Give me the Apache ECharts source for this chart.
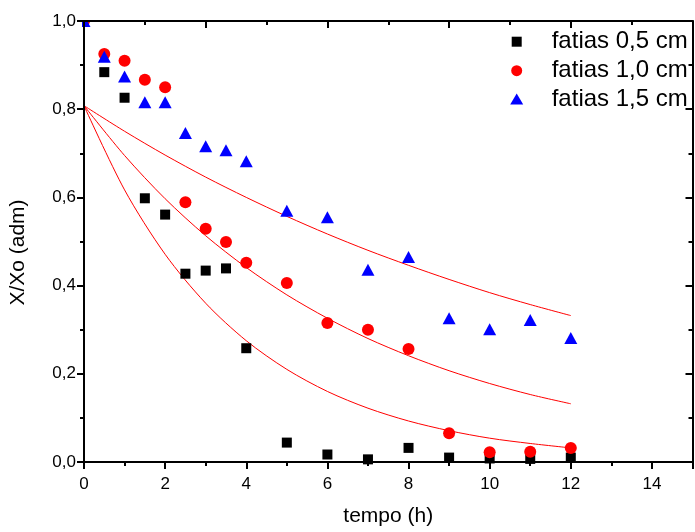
<!DOCTYPE html>
<html><head><meta charset="utf-8">
<script src="https://cdn.jsdelivr.net/npm/echarts@6/dist/echarts.min.js"></script>
<style>html,body{margin:0;padding:0;background:#fff}#c{width:695px;height:532px}</style>
</head><body><div id="c"></div>
<script>
// measured data (X/Xo vs tempo)
const timeHours = [0, 0.5, 1, 1.5, 2, 2.5, 3, 3.5, 4, 5, 6, 7, 8, 9, 10, 11, 12];
const slices05 = [1.0, 0.884, 0.826, 0.598, 0.561, 0.427, 0.434, 0.439, 0.258, 0.044, 0.017, 0.006, 0.032, 0.010, 0.008, 0.007, 0.010];
const slices10 = [1.0, 0.925, 0.910, 0.867, 0.850, 0.589, 0.529, 0.499, 0.452, 0.406, 0.315, 0.300, 0.256, 0.065, 0.022, 0.023, 0.032];
const slices15 = [1.0, 0.919, 0.874, 0.816, 0.816, 0.746, 0.716, 0.707, 0.682, 0.570, 0.555, 0.436, 0.465, 0.326, 0.301, 0.322, 0.281];
// fitted curves
const fitTime = [0, 1, 2, 3, 4, 5, 6, 7, 8, 9, 10, 11, 12];
const fit05 = [0.808, 0.617, 0.471, 0.360, 0.275, 0.210, 0.160, 0.122, 0.093, 0.071, 0.054, 0.042, 0.032];
const fit10 = [0.808, 0.695, 0.597, 0.513, 0.441, 0.379, 0.326, 0.280, 0.241, 0.207, 0.178, 0.153, 0.132];
const fit15 = [0.808, 0.750, 0.696, 0.646, 0.600, 0.557, 0.517, 0.480, 0.446, 0.414, 0.384, 0.357, 0.332];
const seriesNames = ['fatias 0,5 cm', 'fatias 1,0 cm', 'fatias 1,5 cm'];
const xAxisName = 'tempo (h)';
const yAxisName = 'X/Xo (adm)';

const FONT = '"Liberation Sans", Arial, sans-serif';
const pair = (xs, ys) => xs.map((x, i) => [x, ys[i]]);
const chart = echarts.init(document.getElementById('c'), null, {renderer: 'canvas'});

const axLine = {show: true, onZero: false, lineStyle: {color: '#000', width: 2}};
const icons = ['rect', 'circle', 'triangle'];
const iconW = [10, 11, 13];
const iconH = [10, 11, 11];
const rowCenter = [41.7, 70.7, 99];
const colors = ['#000000', '#ff0000', '#0000ff'];
const LEG_FS = 24;

const legends = seriesNames.map((n, i) => ({
  data: [{name: n, icon: icons[i]}],
  selectedMode: false,
  orient: 'vertical',
  padding: 0,
  z: 6,
  left: 516.7 - iconW[i] / 2,
  top: rowCenter[i] - LEG_FS / 2,
  itemWidth: iconW[i],
  itemHeight: iconH[i],
  textStyle: {fontFamily: FONT, fontSize: LEG_FS, color: '#000', padding: [0, 0, 0, 30 - iconW[i] / 2]}
}));

chart.setOption({
  animation: false,
  backgroundColor: '#fff',
  grid: {left: 83, right: 2.5, top: 21, bottom: 67, containLabel: false},
  legend: legends,
  // mask the parts of marks that fall outside the plot frame (as the original clips them)
  graphic: [
    {type: 'rect', z: 3, silent: true, shape: {x: 0, y: 0, width: 695, height: 20}, style: {fill: '#fff'}},
    {type: 'rect', z: 3, silent: true, shape: {x: 0, y: 0, width: 82, height: 532}, style: {fill: '#fff'}}
  ],
  xAxis: [{
    type: 'value', position: 'bottom', min: 0, max: 15, interval: 2, z: 5,
    name: xAxisName, nameLocation: 'middle', nameGap: 44,
    nameTextStyle: {fontFamily: FONT, fontSize: 21, color: '#000'},
    axisLine: axLine,
    axisTick: {show: true, inside: false, length: 7, lineStyle: {color: '#000', width: 2}},
    minorTick: {show: true, splitNumber: 2, length: 4, lineStyle: {color: '#000', width: 2}},
    axisLabel: {fontFamily: FONT, fontSize: 17, color: '#000', margin: 14, showMaxLabel: false},
    splitLine: {show: false}
  }, {
    type: 'value', position: 'top', min: 0, max: 15, interval: 3, z: 5,
    axisLine: axLine,
    axisTick: {show: true, inside: true, length: 7, lineStyle: {color: '#000', width: 2}},
    minorTick: {show: true, splitNumber: 2, length: 4, lineStyle: {color: '#000', width: 2}},
    axisLabel: {show: false},
    splitLine: {show: false}
  }],
  yAxis: [{
    type: 'value', position: 'left', min: 0, max: 1, interval: 0.2, z: 5,
    name: yAxisName, nameLocation: 'middle', nameGap: 55, nameRotate: 90,
    nameTextStyle: {fontFamily: FONT, fontSize: 21, color: '#000', padding: [0, 22, 0, 0]},
    axisLine: axLine,
    axisTick: {show: true, inside: false, length: 7, lineStyle: {color: '#000', width: 2}},
    minorTick: {show: true, splitNumber: 2, length: 4, lineStyle: {color: '#000', width: 2}},
    axisLabel: {fontFamily: FONT, fontSize: 17, color: '#000', margin: 8,
      formatter: v => v.toFixed(1).replace('.', ',')},
    splitLine: {show: false}
  }, {
    type: 'value', position: 'right', min: 0, max: 1, interval: 0.2, z: 5,
    axisLine: axLine,
    axisTick: {show: true, inside: true, length: 7, lineStyle: {color: '#000', width: 2}},
    minorTick: {show: true, splitNumber: 2, length: 4, lineStyle: {color: '#000', width: 2}},
    axisLabel: {show: false},
    splitLine: {show: false}
  }],
  series: [
    {type: 'line', name: 'fit05', data: pair(fitTime, fit05), smooth: 0.3, showSymbol: false, symbol: 'none',
     lineStyle: {color: '#ff0000', width: 1}, z: 1, silent: true},
    {type: 'line', name: 'fit10', data: pair(fitTime, fit10), smooth: 0.3, showSymbol: false, symbol: 'none',
     lineStyle: {color: '#ff0000', width: 1}, z: 1, silent: true},
    {type: 'line', name: 'fit15', data: pair(fitTime, fit15), smooth: 0.3, showSymbol: false, symbol: 'none',
     lineStyle: {color: '#ff0000', width: 1}, z: 1, silent: true},
    {type: 'scatter', name: seriesNames[0], data: pair(timeHours, slices05), symbol: 'rect', symbolSize: 10,
     itemStyle: {color: colors[0], opacity: 1}, z: 2},
    {type: 'scatter', name: seriesNames[1], data: pair(timeHours, slices10), symbol: 'circle', symbolSize: 12,
     itemStyle: {color: colors[1], opacity: 1}, z: 2},
    {type: 'scatter', name: seriesNames[2], data: pair(timeHours, slices15), symbol: 'triangle', symbolSize: [13, 12],
     itemStyle: {color: colors[2], opacity: 1}, z: 2}
  ]
});
</script>
</body></html>
